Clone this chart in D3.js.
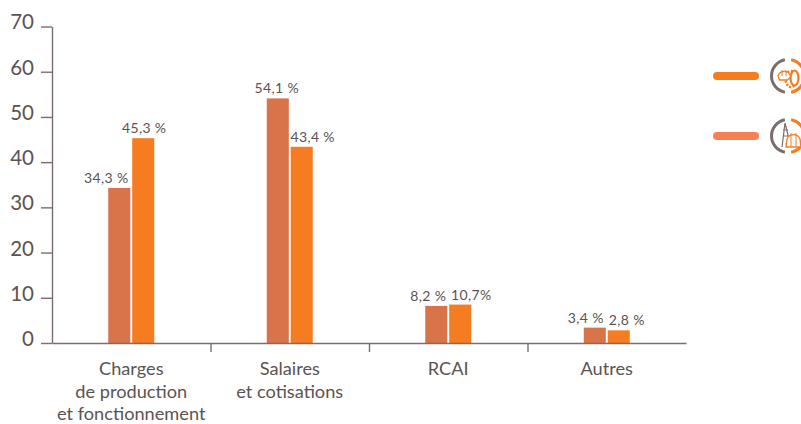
<!DOCTYPE html>
<html>
<head>
<meta charset="utf-8">
<script src="https://cdn.jsdelivr.net/npm/d3@7"></script>
<style>
  html, body { margin: 0; padding: 0; background: #fff; overflow: hidden; }
  text { font-family: Lato, "Open Sans", sans-serif; fill: #5b5353; }
</style>
</head>
<body>
<svg class="chart-svg" width="801" height="424"></svg>
<script>
const categories = ['Charges', 'Salaires', 'RCAI', 'Autres']
const categoryLines = [
  ['Charges', 'de production', 'et fonctionnement'],
  ['Salaires', 'et cotisations'],
  ['RCAI'],
  ['Autres']
]
const seriesA = [34.3, 54.1, 8.2, 3.4]
// the RCAI bar is drawn shorter than its 10,7% label says
const seriesB = [45.3, 43.4, 8.5, 2.8]
const labelsA = ['34,3 %', '54,1 %', '8,2 %', '3,4 %']
const labelsB = ['45,3 %', '43,4 %', '10,7%', '2,8 %']
const yTicks = [0, 10, 20, 30, 40, 50, 60, 70]

// label shifts from the bar centre, the labels dodge each other
const shiftA = [-13, -1, -8, -9]
const shiftB = [1, 11, 11, 8]

const axisColor = '#7a6e6c'
const colorA = '#d9734a'
const colorB = '#f57c20'
const legendB = '#f58053'

const svg = d3.select('.chart-svg')

const xScale = d3.scaleBand().domain(categories).range([52, 686])
const subScale = d3.scaleBand().domain(['a', 'b']).range([0, 46]).paddingInner(0.08)
const yScale = d3.scaleLinear().domain([0, 70]).range([343, 26.5])

// bars
const groups = svg.selectAll('.bar-group')
  .data(categories)
  .enter()
  .append('g')
  .attr('class', 'bar-group')
  .attr('transform', d => `translate(${xScale(d) + xScale.bandwidth() / 2 - 23},0)`)

groups.append('rect')
  .attr('x', subScale('a'))
  .attr('y', (d, i) => yScale(seriesA[i]))
  .attr('width', subScale.bandwidth())
  .attr('height', (d, i) => yScale(0) - yScale(seriesA[i]))
  .attr('fill', colorA)

groups.append('rect')
  .attr('x', subScale('b'))
  .attr('y', (d, i) => yScale(seriesB[i]))
  .attr('width', subScale.bandwidth())
  .attr('height', (d, i) => yScale(0) - yScale(seriesB[i]))
  .attr('fill', colorB)

groups.append('text')
  .attr('x', (d, i) => subScale('a') + subScale.bandwidth() / 2 + shiftA[i])
  .attr('y', (d, i) => yScale(seriesA[i]) - 5)
  .attr('text-anchor', 'middle')
  .attr('font-size', 14)
  .attr('letter-spacing', 0.35)
  .text((d, i) => labelsA[i])

groups.append('text')
  .attr('x', (d, i) => subScale('b') + subScale.bandwidth() / 2 + shiftB[i])
  .attr('y', (d, i) => yScale(seriesB[i]) - 5)
  .attr('text-anchor', 'middle')
  .attr('font-size', 14)
  .attr('letter-spacing', 0.35)
  .text((d, i) => labelsB[i])

// y axis
const yAxis = svg.append('g')
  .attr('class', 'y axis')
  .attr('transform', 'translate(52,0)')
  .call(d3.axisLeft(yScale).tickValues(yTicks).tickSize(11).tickPadding(7).tickSizeOuter(0))
yAxis.selectAll('path, line').attr('stroke', axisColor).attr('stroke-width', 1.4)
yAxis.selectAll('text').attr('font-size', 20.5).style('fill', '#5b5353').attr('dy', '0.12em')

// x axis, ticks sit between the categories
const xBoundaries = categories.slice(1).map(d => xScale(d))
const xAxisScale = d3.scaleLinear().domain([52, 686]).range([52, 686])
const xAxis = svg.append('g')
  .attr('class', 'x axis')
  .attr('transform', `translate(0,${yScale(0)})`)
  .call(d3.axisBottom(xAxisScale).tickValues(xBoundaries).tickSize(9).tickSizeOuter(0).tickFormat(''))
xAxis.selectAll('path, line').attr('stroke', axisColor).attr('stroke-width', 1.4)

const xLabels = svg.selectAll('.x-label')
  .data(categories)
  .enter()
  .append('text')
  .attr('class', 'x-label')
  .attr('text-anchor', 'middle')
  .attr('font-size', 18.2)
  .attr('transform', d => `translate(${xScale(d) + xScale.bandwidth() / 2},0)`)

xLabels.selectAll('tspan')
  .data((d, i) => categoryLines[i])
  .enter()
  .append('tspan')
  .attr('x', 0)
  .attr('y', (d, i) => 375 + i * 22.7)
  .text(d => d)

// legend
const legendRows = [
  { color: colorB, y: 76 },
  { color: legendB, y: 136 }
]
const legend = svg.selectAll('.legend-row')
  .data(legendRows)
  .enter()
  .append('g')
  .attr('class', 'legend-row')
  .attr('transform', d => `translate(0,${d.y})`)

legend.append('line')
  .attr('x1', 717).attr('x2', 755)
  .attr('stroke', d => d.color)
  .attr('stroke-width', 8)
  .attr('stroke-linecap', 'round')

const ringArc = d3.arc().innerRadius(15).outerRadius(18)
legend.append('path')
  .attr('transform', 'translate(788,0)')
  .attr('fill', axisColor)
  .attr('d', ringArc({ startAngle: Math.PI * 1.06, endAngle: Math.PI * 1.94 }))
legend.append('path')
  .attr('transform', 'translate(788,0)')
  .attr('fill', colorB)
  .attr('d', ringArc({ startAngle: Math.PI * 0.06, endAngle: Math.PI * 0.94 }))

// helmet + wheel icon
const icon1 = svg.append('g').attr('transform', 'translate(0,76)')
  .attr('fill', 'none').attr('stroke', colorB)
icon1.append('ellipse').attr('cx', 791).attr('cy', 3).attr('rx', 5.5).attr('ry', 8)
  .attr('stroke-width', 2.5).attr('stroke-dasharray', '2 1.5')
icon1.append('ellipse').attr('cx', 794.5).attr('cy', 2).attr('rx', 4).attr('ry', 7.5)
  .attr('stroke-width', 2.2).attr('fill', '#fff')
icon1.append('path').attr('stroke-width', 1.3).attr('fill', '#fff')
  .attr('d', 'M778 0 a6.5 6.5 0 0 1 12 -1 l0.5 2 l-3 3 h-8 z')
icon1.append('path').attr('stroke-width', 1).attr('d', 'M782 -6 v6 M786 -6 v6')

// helmet + derrick icon
const icon2 = svg.append('g').attr('transform', 'translate(0,136)')
  .attr('fill', 'none').attr('stroke-width', 1.2)
icon2.append('path').attr('stroke', axisColor)
  .attr('d', 'M785 -13 L782 11 M785 -13 L789 3 M783 -6 h5 M783 0 h5')
icon2.append('path').attr('stroke', colorB).attr('stroke-width', 1.4).attr('fill', '#fff')
  .attr('d', 'M786 11 l1 -8 a7 7 0 0 1 13 0 l1 8 z')
icon2.append('path').attr('stroke', colorB).attr('stroke-width', 1).attr('d', 'M791 -3 v13 M796 -3 v13')
</script>
</body>
</html>
